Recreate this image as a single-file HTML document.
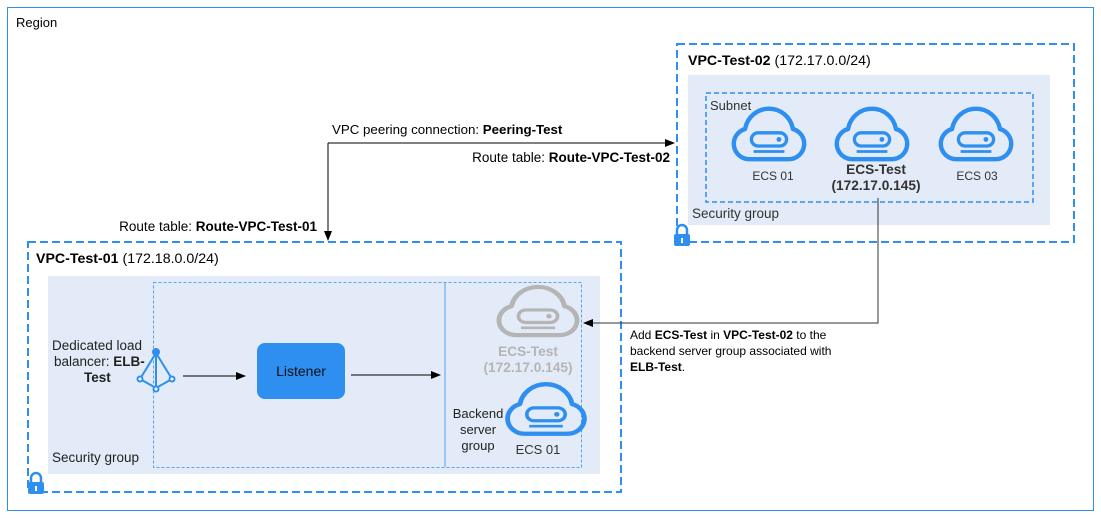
<!DOCTYPE html>
<html><head><style>body{margin:0;background:#fff}svg{display:block;font-family:"Liberation Sans",sans-serif}</style></head><body>
<svg width="1101" height="518" viewBox="0 0 1101 518" xmlns="http://www.w3.org/2000/svg">
<defs>
<marker id="ar" markerWidth="10" markerHeight="10" refX="9" refY="5" orient="auto" markerUnits="userSpaceOnUse"><path d="M0,1 L10,5 L0,9 z" fill="#000"/></marker>
<g id="cloud"><path d="M-18,22 A14,14 0 0 1 -21.7,-5.5 A22,22 0 0 1 21.7,-5.5 A14,14 0 0 1 18,22 Z" fill="none" stroke-width="4" stroke-linejoin="round"/><rect x="-16" y="-2" width="32" height="12" rx="6" fill="none" stroke-width="3"/><circle cx="9" cy="4" r="2.2" stroke="none"/><line x1="-14" y1="15" x2="14" y2="15" stroke-width="2.5"/></g>
<g id="lock"><path d="M-5,-2 v-4 a5,5 0 0 1 10,0 v4" fill="none" stroke="#2e8ff0" stroke-width="2.5"/><rect x="-8" y="-2" width="16" height="12" rx="2" fill="#2e8ff0"/><rect x="-1" y="2" width="2" height="5" fill="#fff"/></g>
</defs>
<rect x="7.5" y="7.5" width="1086" height="503" fill="none" stroke="#2e8ff0" stroke-width="1"/>
<text x="16" y="27" font-size="13">Region</text>

<!-- VPC 02 -->
<rect x="677" y="44" width="397" height="198" fill="none" stroke="#2e8ff0" stroke-width="2" stroke-dasharray="8,4"/>
<text x="688" y="65" font-size="14.2"><tspan font-weight="bold">VPC-Test-02</tspan> (172.17.0.0/24)</text>
<rect x="688" y="75" width="362" height="150" fill="#e2ebf7"/>
<rect x="706" y="93" width="327" height="109" fill="none" stroke="#2e8ff0" stroke-width="1.5" stroke-dasharray="5,3"/>
<text x="710" y="110" font-size="13" fill="#333">Subnet</text>
<g stroke="#2e8ff0" fill="#2e8ff0">
<use href="#cloud" transform="translate(769,135) scale(1.1)"/>
<use href="#cloud" transform="translate(872,135) scale(1.1)"/>
<use href="#cloud" transform="translate(976,135) scale(1.1)"/>
</g>
<text x="773" y="180" font-size="12" text-anchor="middle" fill="#333">ECS 01</text>
<text x="876" y="174" font-size="13.7" text-anchor="middle" font-weight="bold" fill="#333">ECS-Test</text>
<text x="876" y="190" font-size="13.7" text-anchor="middle" font-weight="bold" fill="#333">(172.17.0.145)</text>
<text x="977" y="180" font-size="12" text-anchor="middle" fill="#333">ECS 03</text>
<text x="692" y="218" font-size="13.5" fill="#333">Security group</text>
<use href="#lock" x="682" y="236"/>

<!-- VPC 01 -->
<rect x="28" y="242" width="593" height="250" fill="none" stroke="#2e8ff0" stroke-width="2" stroke-dasharray="8,4"/>
<text x="36" y="263" font-size="14.2"><tspan font-weight="bold">VPC-Test-01</tspan> (172.18.0.0/24)</text>
<rect x="48" y="276" width="552" height="198" fill="#e2ebf7"/>
<rect x="153.5" y="282.5" width="428" height="185" fill="none" stroke="#2e8ff0" stroke-width="0.8" stroke-dasharray="3,2"/>
<line x1="445" y1="283" x2="445" y2="467" stroke="#2e8ff0" stroke-width="0.8"/>
<text x="52" y="350" font-size="13.5" fill="#222">Dedicated load</text>
<text x="54" y="366" font-size="13.5" fill="#222">balancer: <tspan font-weight="bold">ELB-</tspan></text>
<text x="84" y="382" font-size="13.5" font-weight="bold" fill="#222">Test</text>
<g stroke="#2e8ff0" stroke-width="2" fill="#fff"><path d="M156,353 L140,379 L156,388 L172,379 Z M156,353 L156,388" fill="none"/><circle cx="156" cy="352" r="3" fill="#2e8ff0"/><circle cx="140" cy="379" r="2.5"/><circle cx="172" cy="379" r="2.5"/><circle cx="156" cy="389" r="2.5"/></g>
<line x1="183" y1="376" x2="245" y2="376" stroke="#000" marker-end="url(#ar)"/>
<rect x="257" y="343" width="88" height="56" rx="8" fill="#2e8ff0"/>
<text x="301" y="376" font-size="14" text-anchor="middle" fill="#111">Listener</text>
<line x1="351" y1="375" x2="440" y2="375" stroke="#000" marker-end="url(#ar)"/>
<use href="#cloud" transform="translate(538,312) scale(1.22,1.05)" stroke="#b5b5b5" fill="#b5b5b5"/>
<text x="528" y="356" font-size="13.7" text-anchor="middle" font-weight="bold" fill="#b5b5b5">ECS-Test</text>
<text x="528" y="372" font-size="13.7" text-anchor="middle" font-weight="bold" fill="#b5b5b5">(172.17.0.145)</text>
<use href="#cloud" transform="translate(546,410) scale(1.2,1.08)" stroke="#2e8ff0" fill="#2e8ff0"/>
<text x="538" y="454" font-size="13" text-anchor="middle" fill="#333">ECS 01</text>
<text x="478" y="418" font-size="13" text-anchor="middle" fill="#222">Backend</text>
<text x="478" y="434" font-size="13" text-anchor="middle" fill="#222">server</text>
<text x="478" y="450" font-size="13" text-anchor="middle" fill="#222">group</text>
<text x="52" y="462" font-size="13.5" fill="#222">Security group</text>
<use href="#lock" x="36" y="484"/>

<!-- connectors -->
<path d="M328,143 L328,240" stroke="#000" fill="none" marker-end="url(#ar)"/>
<path d="M328,143 L674,143" stroke="#000" fill="none" marker-end="url(#ar)"/>
<text x="332" y="134" font-size="13.3">VPC peering connection: <tspan font-weight="bold">Peering-Test</tspan></text>
<text x="670" y="162" font-size="13.5" text-anchor="end">Route table: <tspan font-weight="bold">Route-VPC-Test-02</tspan></text>
<text x="317" y="231" font-size="13.5" text-anchor="end">Route table: <tspan font-weight="bold">Route-VPC-Test-01</tspan></text>
<path d="M878,198 L878,323 L584,323" stroke="#333" fill="none" marker-end="url(#ar)"/>
<text x="630" y="339" font-size="12">Add <tspan font-weight="bold">ECS-Test</tspan> in <tspan font-weight="bold">VPC-Test-02</tspan> to the</text>
<text x="630" y="355" font-size="12">backend server group associated with</text>
<text x="630" y="371" font-size="12"><tspan font-weight="bold">ELB-Test</tspan>.</text>
</svg>
</body></html>
